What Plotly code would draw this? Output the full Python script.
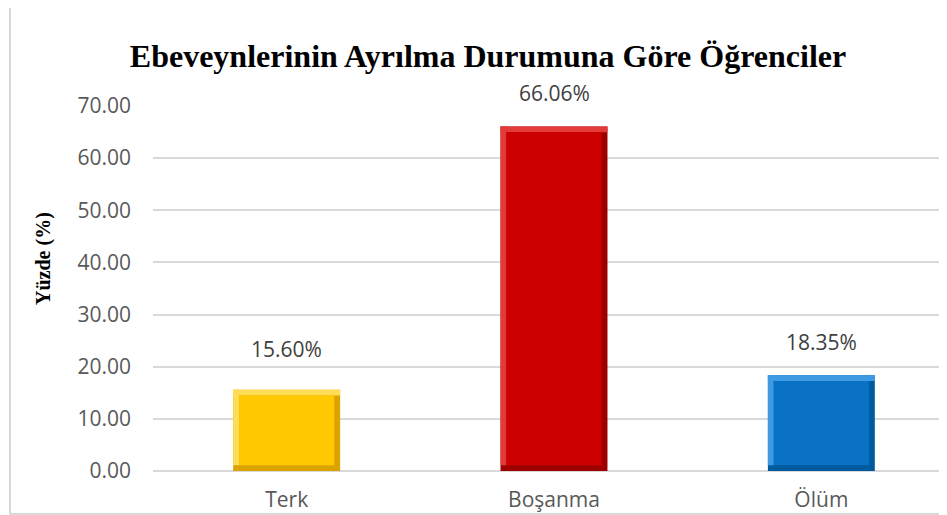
import plotly.graph_objects as go

categories = ["Terk", "Boşanma", "Ölüm"]
values = [15.60, 66.06, 18.35]
labels = ["15.60%", "66.06%", "18.35%"]
label_shift = [41, 34, 33]
main_colors = ["#FFC800", "#CC0000", "#0A72C4"]
light_colors = ["#FFDD55", "#E33A3A", "#3E9BE3"]
dark_colors = ["#D9A300", "#9E0000", "#005A9E"]
tick_vals = [0, 10, 20, 30, 40, 50, 60, 70]
tick_text = ["0.00", "10.00", "20.00", "30.00", "40.00", "50.00", "60.00", "70.00"]
title_text = "Ebeveynlerinin Ayrılma Durumuna Göre Öğrenciler"
ytitle_text = "Yüzde (%)"

bevel = 1.1
W = 0.4
side = 0.022
fig = go.Figure()
# outer (dark) bar: right and bottom bevel
fig.add_trace(go.Bar(x=categories, y=values, width=W, marker=dict(color=dark_colors, line=dict(width=0)),
                     hoverinfo="skip", showlegend=False))
# left light bevel
fig.add_trace(go.Bar(x=categories, y=[v - bevel for v in values], base=[bevel] * 3, width=side, offset=-W / 2,
                     marker=dict(color=light_colors, line=dict(width=0)), hoverinfo="skip", showlegend=False))
# top highlight strip
fig.add_trace(go.Bar(x=categories, y=[bevel] * 3, base=[v - bevel for v in values], width=W,
                     marker=dict(color=light_colors, line=dict(width=0)), hoverinfo="skip", showlegend=False))
# face
fig.add_trace(go.Bar(x=categories, y=[v - 2 * bevel for v in values], base=[bevel] * 3, width=W - 2 * side,
                     marker=dict(color=main_colors, line=dict(width=0)), showlegend=False))

for c, v, t, s in zip(categories, values, labels, label_shift):
    fig.add_annotation(x=c, y=v, text=t, showarrow=False, yanchor="middle", yshift=s,
                       font=dict(family="Open Sans", size=21, color="#404040"))

fig.add_annotation(text=ytitle_text, xref="paper", yref="paper", x=-0.1373, y=0.5836,
                   textangle=-90, showarrow=False, xanchor="center", yanchor="middle",
                   font=dict(family="Liberation Serif", size=20, color="#000000", weight="bold"))

fig.add_shape(type="rect", xref="paper", yref="paper", x0=-0.1801, x1=1.2, y0=-0.1178, y1=1.2795,
              line=dict(color="#d9d9d9", width=2), fillcolor="rgba(0,0,0,0)", layer="below")

fig.update_layout(
    width=939, height=507,
    margin=dict(l=145, r=0, t=98, b=44),
    barmode="overlay",
    paper_bgcolor="white", plot_bgcolor="white",
    title=dict(text=title_text, x=0.5112, xanchor="center", y=0.9053, yanchor="middle",
               font=dict(family="Liberation Serif", size=32, color="#000000", weight="bold")),
    xaxis=dict(range=[-0.5, 2.47], showgrid=False, showline=False, zeroline=False,
               tickfont=dict(family="Open Sans", size=21, color="#595959"), ticks="", ticklabelstandoff=14),
    yaxis=dict(range=[0, 70], tickvals=tick_vals, ticktext=tick_text, showgrid=True,
               gridcolor="#d9d9d9", gridwidth=1.5, zeroline=True, zerolinecolor="#d9d9d9", zerolinewidth=1.5,
               showline=False, ticks="", ticklabelstandoff=21,
               tickfont=dict(family="Open Sans", size=21, color="#595959")),
)

fig.write_html("out.html")
